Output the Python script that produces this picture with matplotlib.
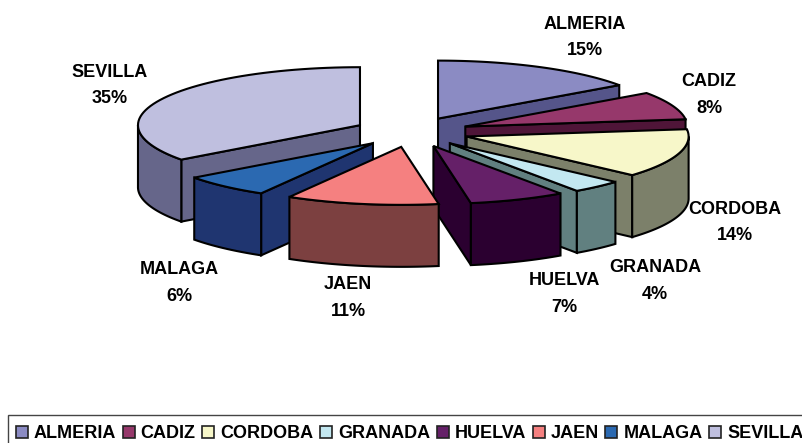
import numpy as np
import matplotlib
matplotlib.use('Agg')
import matplotlib.pyplot as plt
from matplotlib.patches import Polygon, Patch, Rectangle

plt.rcParams['font.family'] = ['Liberation Sans', 'DejaVu Sans']

# data, labels show these rounded
provinces = ['ALMERIA', 'CADIZ', 'CORDOBA', 'GRANADA', 'HUELVA', 'JAEN', 'MALAGA', 'SEVILLA']
percent = [15.2, 7.8, 13.6, 3.7, 7.0, 11.1, 6.49, 35.11]
top_colors = ['#8B8BC3', '#96386B', '#F7F7C9', '#C3E8F1', '#652068', '#F58080', '#2B69B1', '#BFBFDF']
side_colors = ['#55558A', '#4F1538', '#7C806A', '#618080', '#2B0030', '#7C4040', '#1F3570', '#66668A']

# layout of the pie, in pixels
cx, cy = 411.5, 132
rx, ry = 222, 58
depth = 62
explode = 0.26
label_pos = [(585, 37.5), (709, 95), (735, 222.5), (655, 281), (564, 294), (348, 298), (179, 283), (110, 85.5)]
draw_order = [0, 7, 1, 2, 3, 4, 6, 5]  # back to front


def arc(ox, oy, a1, a2):
    t = np.radians(np.linspace(a1, a2, 60))
    return np.column_stack([ox + rx * np.sin(t), oy - ry * np.cos(t)])


def shifted(pts):
    return pts + np.array([0, depth])


def draw_slice(ax, a1, a2, top, side):
    mid = np.radians((a1 + a2) / 2)
    ox = cx + explode * rx * np.sin(mid)
    oy = cy - explode * ry * np.cos(mid)
    apex = np.array([[ox, oy]])
    style = dict(edgecolor='black', linewidth=1.5, joinstyle='miter')
    # radial faces that look towards the viewer
    if a1 > 180:
        edge = np.vstack([apex, arc(ox, oy, a1, a1)[:1]])
        ax.add_patch(Polygon(np.vstack([edge, shifted(edge)[::-1]]), facecolor=side, **style))
    if a2 < 180:
        edge = np.vstack([apex, arc(ox, oy, a2, a2)[:1]])
        ax.add_patch(Polygon(np.vstack([edge, shifted(edge)[::-1]]), facecolor=side, **style))
    # outer wall, only the front half shows
    f1, f2 = max(a1, 90), min(a2, 270)
    if f2 > f1:
        wall = arc(ox, oy, f1, f2)
        ax.add_patch(Polygon(np.vstack([wall, shifted(wall)[::-1]]), facecolor=side, **style))
    ax.add_patch(Polygon(np.vstack([apex, arc(ox, oy, a1, a2)]), facecolor=top, **style))


fig = plt.figure(figsize=(8.03, 4.43), dpi=100)
ax = fig.add_axes([0, 0, 1, 1])
ax.set_xlim(0, 803)
ax.set_ylim(443, 0)
ax.axis('off')

edges = np.concatenate([[0], np.cumsum(percent)]) * 3.6
for i in draw_order:
    draw_slice(ax, edges[i], edges[i + 1], top_colors[i], side_colors[i])

for name, p, (x, y) in zip(provinces, percent, label_pos):
    ax.text(x, y, '%s\n%d%%' % (name, round(p)), ha='center', va='center', fontsize=13,
            fontweight='bold', linespacing=1.7)

# frame runs off the right and bottom of the picture, as in the original
ax.add_patch(Rectangle((8, 414.5), 830, 60, facecolor='white', edgecolor='#444444', linewidth=1))
handles = [Patch(facecolor=c, edgecolor='#222222', linewidth=1.2) for c in top_colors]
leg = ax.legend(handles, provinces, ncol=8, loc='upper left',
                bbox_to_anchor=(8 / 803, 1 - 417.5 / 443, 803 / 803, 0), bbox_transform=ax.transAxes,
                mode='expand', borderaxespad=0, frameon=False,
                prop={'weight': 'bold', 'size': 13},
                handlelength=0.67, handleheight=0.67, handletextpad=0.33,
                columnspacing=0.3, borderpad=0.42)

fig.savefig('out.png', dpi=100)
